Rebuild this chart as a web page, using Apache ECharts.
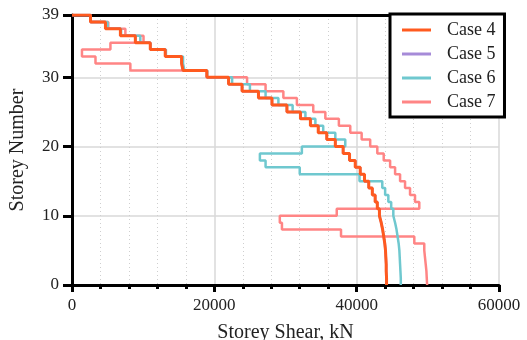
<!DOCTYPE html>
<html>
<head>
<meta charset="utf-8">
<script src="https://cdn.jsdelivr.net/npm/echarts@6/dist/echarts.min.js"></script>
<style>
  html, body { margin: 0; padding: 0; background: #fff; }
  #chart { width: 527px; height: 340px; }
</style>
</head>
<body>
<div id="chart"></div>
<script>
const FONT = "Liberation Serif";

const caseNames = ["Case 4", "Case 5", "Case 6", "Case 7"];
const caseColors = ["#ff5a1f", "#a68bd8", "#6fc8cf", "#ff8585"];

// storey shear (kN), storey 1 .. 39
const case4Shear = [
  44200, 44200, 44150, 44150, 44100, 44050, 43950, 43800, 43650, 43450,
  43200, 42900, 42600, 42200, 41700, 41100, 40500, 39800, 39000, 38100,
  37000, 35800, 34600, 33500, 32100, 30200, 28100, 26200, 23900, 22000,
  18950, 15600, 15400, 13100, 11000, 8900, 6800, 4700, 2600
];
const case5Shear = [
  44200, 44200, 44150, 44150, 44100, 44050, 43950, 43800, 43650, 43450,
  43200, 42900, 42600, 42200, 41700, 41100, 40500, 39800, 39000, 38100,
  37000, 35800, 34600, 33500, 32100, 30200, 28100, 26200, 23900, 22000,
  18950, 15600, 15400, 13100, 11000, 8900, 6800, 4700, 2600
];
const case6Shear = [
  46200, 46200, 46150, 46100, 46050, 46000, 45900, 45750, 45600, 45400,
  45150, 44850, 44450, 44000, 43600, 40400, 32000, 27200, 26400, 32300,
  38400, 37000, 35300, 34200, 32800, 31000, 29000, 27200, 25000, 22500,
  19000, 15800, 15600, 13200, 11000, 9600, 6900, 5000, 2600
];
const case7Shear = [
  49900, 49850, 49800, 49700, 49600, 49500, 48100, 37800, 29500, 29200,
  37200, 48800, 48200, 47500, 46800, 46100, 45400, 44700, 43800, 42900,
  41900, 40700, 39100, 37500, 35600, 33900, 31600, 29700, 27200, 24600,
  18950, 8200, 3300, 1400, 5400, 10050, 7500, 5100, 2600
];

const xMax = 60000;
const storeyTop = 39;

// storey i spans level i-1 .. i
function stepPoints(shear) {
  const pts = [[0, shear.length]];
  for (let i = shear.length; i >= 1; i--) {
    pts.push([shear[i - 1], i], [shear[i - 1], i - 1]);
  }
  return pts;
}

const chart = echarts.init(document.getElementById("chart"));

const allShear = [case4Shear, case5Shear, case6Shear, case7Shear];
const widths = [3, 2.5, 2.5, 2.5];
const series = [];
// draw Case 7 first so Case 4 ends up on top
for (let k = allShear.length - 1; k >= 0; k--) {
  series.push({
    name: caseNames[k],
    type: "line",
    xAxisIndex: 0,
    symbol: "none",
    data: stepPoints(allShear[k]),
    lineStyle: { color: caseColors[k], width: widths[k] },
    itemStyle: { color: caseColors[k] },
  });
}

chart.setOption({
  animation: false,
  textStyle: { fontFamily: FONT },
  grid: { left: 72, right: 28, top: 15, bottom: 55, outerBoundsMode: "none" },
  legend: {
    orient: "vertical",
    left: 390,
    top: 14,
    data: caseNames,
    icon: "rect",
    backgroundColor: "#fff",
    borderColor: "#000",
    borderWidth: 3,
    padding: [7, 9, 6, 12],
    itemWidth: 29,
    itemHeight: 3,
    itemGap: 6,
    textStyle: {
      fontFamily: FONT, fontSize: 18, lineHeight: 16, color: "#222",
      padding: [0, 0, 0, 11],
    },
  },
  xAxis: [
    {
      type: "value",
      min: 0,
      max: xMax,
      interval: 20000,
      axisLine: { onZero: false, lineStyle: { color: "#000", width: 3 } },
      axisTick: { length: 7, lineStyle: { color: "#000", width: 3 } },
      minorTick: { show: true, splitNumber: 5, length: 4, lineStyle: { color: "#000", width: 3 } },
      splitLine: { show: true, lineStyle: { color: "#d9d9d9", width: 1.5 } },
      minorSplitLine: { show: true, lineStyle: { color: "#cfcfcf", width: 1, type: [1, 3] } },
      axisLabel: {
        fontFamily: FONT, fontSize: 17, color: "#222", margin: 12,
        formatter: (v) => String(v),
      },
      name: "Storey Shear, kN",
      nameLocation: "middle",
      nameGap: 38,
      nameTextStyle: { fontFamily: FONT, fontSize: 20, color: "#222" },
    },
    {
      type: "value",
      position: "top",
      min: 0,
      max: xMax,
      axisLine: { onZero: false, lineStyle: { color: "#000", width: 3 } },
      axisTick: { show: false },
      axisLabel: { show: false },
      splitLine: { show: false },
    },
  ],
  yAxis: {
    type: "value",
    min: 0,
    max: storeyTop,
    interval: 10,
    axisLine: { show: true, onZero: false, lineStyle: { color: "#000", width: 3 } },
    axisTick: { show: true, length: 9, lineStyle: { color: "#000", width: 3 } },
    splitLine: { show: true, lineStyle: { color: "#d9d9d9", width: 1.5 } },
    axisLabel: { fontFamily: FONT, fontSize: 17, color: "#222", margin: 13 },
    name: "Storey Number",
    nameLocation: "middle",
    nameGap: 44,
    nameTextStyle: { fontFamily: FONT, fontSize: 20, color: "#222" },
  },
  series: series,
});
</script>
</body>
</html>
